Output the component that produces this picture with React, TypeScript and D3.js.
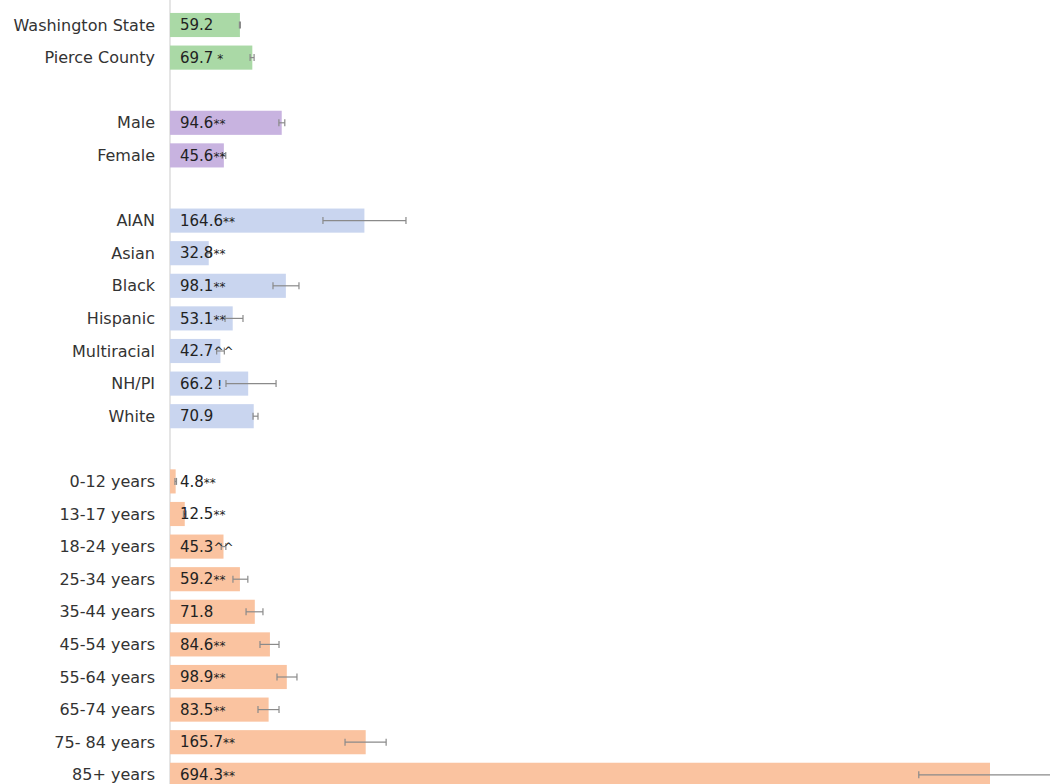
import React from "react";
import * as d3 from "d3";

const labels = [
  "Washington State", "Pierce County", "",
  "Male", "Female", "",
  "AIAN", "Asian", "Black", "Hispanic", "Multiracial", "NH/PI", "White", "",
  "0-12 years", "13-17 years", "18-24 years", "25-34 years", "35-44 years",
  "45-54 years", "55-64 years", "65-74 years", "75- 84 years", "85+ years",
];
const values = [
  59.2, 69.7, NaN,
  94.6, 45.6, NaN,
  164.6, 32.8, 98.1, 53.1, 42.7, 66.2, 70.9, NaN,
  4.8, 12.5, 45.3, 59.2, 71.8, 84.6, 98.9, 83.5, 165.7, 694.3,
];
const lows = [
  58.8, 67.8, NaN,
  92.2, 44.2, NaN,
  129.5, 31.2, 87.2, 46.6, 39.5, 47.4, 70.3, NaN,
  4.2, 11.4, 43.4, 53.3, 64.4, 76.2, 90.6, 74.5, 148.2, 634.0,
];
const highs = [
  59.6, 71.2, NaN,
  97.2, 47.2, NaN,
  199.8, 34.5, 109.2, 61.8, 46.0, 89.8, 74.5, NaN,
  5.5, 13.6, 47.3, 65.9, 78.7, 92.3, 107.5, 92.3, 183.0, 755.0,
];
const suffixes = [
  "", " *", "",
  "**", "**", "",
  "**", "**", "**", "**", "^^", " !", "", "",
  "**", "**", "^^", "**", "", "**", "**", "**", "**", "**",
];
const groups = [
  "total", "total", "gap",
  "sex", "sex", "gap",
  "race", "race", "race", "race", "race", "race", "race", "gap",
  "age", "age", "age", "age", "age", "age", "age", "age", "age", "age",
];
const groupColors: Record<string, string> = {
  total: "#aad9a6",
  sex: "#c8b3e0",
  race: "#c9d5ef",
  age: "#fac3a0",
};

const W = 1050;
const H = 784;
const FONT = "'DejaVu Sans', sans-serif";

export default function App() {
  const keys = labels.map((_, i) => String(i));
  const x = d3.scaleLinear().domain([0, 694.3]).range([170, 990]);
  const y = d3
    .scaleBand<string>()
    .domain(keys)
    .range([8.7, 8.7 + 24 * 32.6])
    .paddingInner(0.26)
    .paddingOuter(0.13);
  const bw = y.bandwidth();

  return (
    <svg
      width={W}
      height={H}
      style={{ position: "absolute", left: 0, top: 0, background: "#fff" }}
    >
      <line x1={x(0)} x2={x(0)} y1={0} y2={H} stroke="#d4d4d4" strokeWidth={1.2} />
      {labels.map((lab, i) => {
        if (groups[i] === "gap") return null;
        const y0 = y(keys[i])!;
        const cy = y0 + bw / 2;
        const v = values[i];
        const lo = lows[i];
        const hi = highs[i];
        return (
          <g key={i}>
            <text
              x={155}
              y={cy}
              dy="0.35em"
              textAnchor="end"
              fontFamily={FONT}
              fontSize={16}
              fill="#333"
            >
              {lab}
            </text>
            <rect
              x={x(0)}
              y={y0}
              width={x(v) - x(0)}
              height={bw}
              fill={groupColors[groups[i]]}
            />
            <line x1={x(lo)} x2={x(hi)} y1={cy} y2={cy} stroke="#8a8a8a" strokeWidth={1.2} />
            <line x1={x(lo)} x2={x(lo)} y1={cy - 3.5} y2={cy + 3.5} stroke="#8a8a8a" strokeWidth={1.2} />
            <line x1={x(hi)} x2={x(hi)} y1={cy - 3.5} y2={cy + 3.5} stroke="#8a8a8a" strokeWidth={1.2} />
            <text
              x={x(0) + 10}
              y={cy}
              dy="0.35em"
              fontFamily={FONT}
              fontSize={15}
              fill="#222"
            >
              {d3.format(".1f")(v)}
              {suffixes[i] ? (
                <tspan fontSize={12} fill="#222">
                  {suffixes[i]}
                </tspan>
              ) : null}
            </text>
          </g>
        );
      })}
    </svg>
  );
}
